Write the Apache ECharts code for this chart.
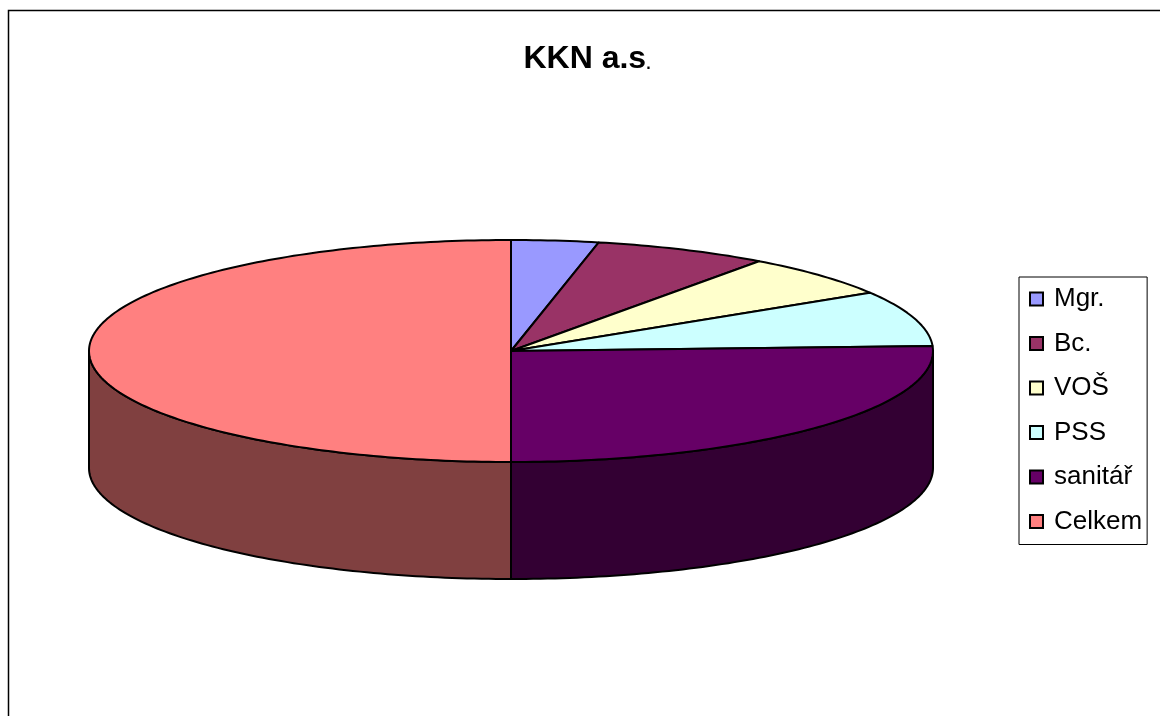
<!DOCTYPE html>
<html>
<head>
<meta charset="utf-8">
<script src="https://cdn.jsdelivr.net/npm/echarts@6/dist/echarts.min.js"></script>
<style>
  html, body { margin: 0; padding: 0; background: #fff; }
  #main { width: 1160px; height: 716px; }
</style>
</head>
<body>
<div id="main"></div>
<script>
// data
const names = ['Mgr.', 'Bc.', 'VOŠ', 'PSS', 'sanitář', 'Celkem'];
const values = [7, 14, 13, 17, 54, 105];
const topColors = ['#9999FF', '#993366', '#FFFFCC', '#CCFFFF', '#660066', '#FF8080'];
const sideColors = ['#4d4d80', '#4d1a33', '#808066', '#668080', '#330033', '#804040'];

// pie layout (in grid units = pixels)
const pieCenter = [511, 351];
const pieRadius = [422, 111];
const pieDepth = 117;

const total = values.reduce((a, b) => a + b, 0);
const cum = [];
let acc = 0;
values.forEach(v => { cum.push([acc, acc + v]); acc += v; });

const font = 'Arial, "Liberation Sans", sans-serif';

function pt(c, r, deg, dy) {
  const t = deg * Math.PI / 180;
  return [c[0] + r[0] * Math.sin(t), c[1] - r[1] * Math.cos(t) + (dy || 0)];
}

function arc(c, r, a, b, dy) {
  const pts = [];
  const n = Math.max(2, Math.ceil(Math.abs(b - a)));
  for (let i = 0; i <= n; i++) pts.push(pt(c, r, a + (b - a) * i / n, dy));
  return pts;
}

function makeRender(idx) {
  return function (params, api) {
    const c = api.coord(pieCenter);
    const r = api.size(pieRadius);
    const d = api.size([0, pieDepth])[1];
    const a = api.value(0) / total * 360;
    const b = api.value(1) / total * 360;
    const children = [];
    // front wall, only the part facing the viewer
    const sa = Math.max(a, 90), sb = Math.min(b, 270);
    if (sb > sa) {
      const top = arc(c, r, sa, sb, 0);
      const bottom = arc(c, r, sb, sa, d);
      children.push({
        type: 'polygon',
        z2: 1,
        shape: { points: top.concat(bottom) },
        style: { fill: sideColors[idx], stroke: '#000', lineWidth: 2, lineJoin: 'round' }
      });
    }
    children.push({
      type: 'polygon',
      z2: 10,
      shape: { points: [c].concat(arc(c, r, a, b, 0)) },
      style: { fill: topColors[idx], stroke: '#000', lineWidth: 2, lineJoin: 'round' }
    });
    return { type: 'group', children: children };
  };
}

const chart = echarts.init(document.getElementById('main'));

const option = {
  animation: false,
  title: {
    text: '{a|KKN a.s}{b|.}',
    left: 582,
    textAlign: 'center',
    top: 38,
    textStyle: {
      rich: {
        a: { fontFamily: font, fontWeight: 'bold', fontSize: 32, color: '#000' },
        b: { fontFamily: font, fontWeight: 'bold', fontSize: 16, color: '#000', verticalAlign: 'bottom', padding: [0, 0, 2, 0] }
      }
    }
  },
  legend: {
    orient: 'vertical',
    left: 1019,
    top: 277,
    padding: [9, 5, 10, 10],
    itemGap: 18.5,
    itemWidth: 13,
    itemHeight: 13,
    icon: 'rect',
    borderColor: '#000',
    borderWidth: 1,
    itemStyle: { borderColor: '#000', borderWidth: 2 },
    textStyle: {
      fontFamily: font, fontSize: 26, color: '#000',
      lineHeight: 24, width: 88, overflow: 'none', padding: [0, 0, 0, 6]
    },
    data: names
  },
  grid: { left: 0, top: 0, right: 0, bottom: 0 },
  xAxis: { type: 'value', min: 0, max: 1160, show: false },
  yAxis: { type: 'value', min: 0, max: 716, inverse: true, show: false },
  graphic: [{
    type: 'rect',
    silent: true,
    shape: { x: 8.5, y: 10.5, width: 1200, height: 800 },
    style: { fill: 'none', stroke: '#000', lineWidth: 1.5 }
  }],
  series: names.map((n, i) => ({
    name: n,
    type: 'custom',
    coordinateSystem: 'cartesian2d',
    itemStyle: { color: topColors[i] },
    renderItem: makeRender(i),
    data: [cum[i]]
  }))
};

chart.setOption(option);
</script>
</body>
</html>
